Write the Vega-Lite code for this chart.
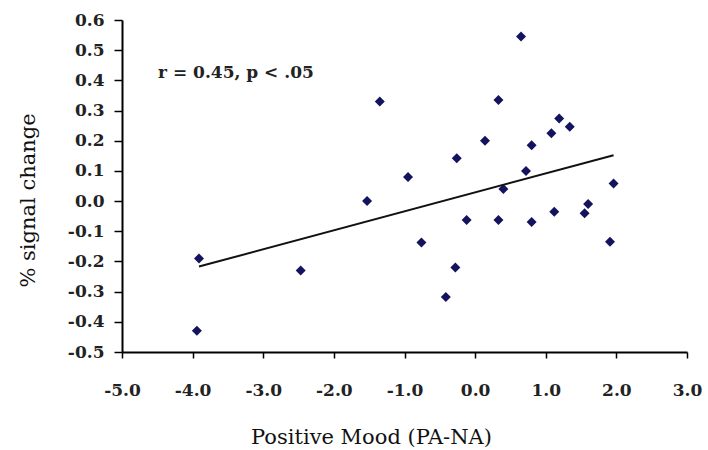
{
  "$schema": "https://vega.github.io/schema/vega-lite/v6.json",
  "width": 565,
  "height": 332,
  "autosize": {"type": "none"},
  "padding": {"left": 122, "top": 20, "right": 21, "bottom": 98},
  "background": "white",
  "config": {
    "view": {"stroke": null},
    "axis": {
      "domainColor": "black",
      "domainWidth": 2,
      "tickColor": "black",
      "tickWidth": 1.5,
      "grid": false,
      "labelFont": "DejaVu Serif",
      "labelFontWeight": "bold",
      "labelFontSize": 17,
      "labelColor": "#222222",
      "labelOverlap": false,
      "labelFlush": false,
      "titleFont": "DejaVu Serif",
      "titleFontWeight": "normal",
      "titleFontSize": 21,
      "titleColor": "#111111"
    }
  },
  "layer": [
    {
      "data": {
        "values": [
          {"mood": -3.91, "signal": -0.19},
          {"mood": -3.94, "signal": -0.43},
          {"mood": -2.47, "signal": -0.23},
          {"mood": -1.35, "signal": 0.33},
          {"mood": -0.95, "signal": 0.08},
          {"mood": -1.53, "signal": 0.0},
          {"mood": -0.76, "signal": -0.137},
          {"mood": -0.26, "signal": 0.142},
          {"mood": -0.12, "signal": -0.063},
          {"mood": -0.28, "signal": -0.22},
          {"mood": -0.415, "signal": -0.318},
          {"mood": 0.14, "signal": 0.2},
          {"mood": 0.33, "signal": 0.335},
          {"mood": 0.33, "signal": -0.063},
          {"mood": 0.4, "signal": 0.04},
          {"mood": 0.65, "signal": 0.545},
          {"mood": 0.72, "signal": 0.1},
          {"mood": 0.8, "signal": 0.185},
          {"mood": 0.8, "signal": -0.069},
          {"mood": 1.08, "signal": 0.225},
          {"mood": 1.12, "signal": -0.035},
          {"mood": 1.19, "signal": 0.274},
          {"mood": 1.34, "signal": 0.246},
          {"mood": 1.55, "signal": -0.04},
          {"mood": 1.6, "signal": -0.01},
          {"mood": 1.91, "signal": -0.135},
          {"mood": 1.96, "signal": 0.058}
        ]
      },
      "mark": {"type": "point", "shape": "diamond", "filled": true, "size": 100, "color": "#14145e", "opacity": 1},
      "encoding": {
        "x": {
          "field": "mood", "type": "quantitative",
          "scale": {"domain": [-5, 3], "nice": false, "zero": false},
          "axis": {
            "values": [-5, -4, -3, -2, -1, 0, 1, 2, 3],
            "tickCount": 20,
            "labelExpr": "replace(format(datum.value, '.1f'), '\u2212', '-')",
            "tickSize": 6,
            "labelPadding": 24,
            "title": "Positive Mood (PA-NA)",
            "titleX": 249,
            "titleY": 85,
            "titleAnchor": null,
            "titleAlign": "center",
            "titleBaseline": "middle"
          }
        },
        "y": {
          "field": "signal", "type": "quantitative",
          "scale": {"domain": [-0.5, 0.6], "nice": false, "zero": false},
          "axis": {
            "values": [-0.5, -0.4, -0.3, -0.2, -0.1, 0, 0.1, 0.2, 0.3, 0.4, 0.5, 0.6],
            "tickCount": 30,
            "labelExpr": "replace(format(datum.value, '.1f'), '\u2212', '-')",
            "tickSize": 8,
            "labelPadding": 10,
            "title": "% signal change",
            "titleX": -94,
            "titleY": 180,
            "titleAngle": -90,
            "titleAlign": "center",
            "titleBaseline": "middle"
          }
        }
      }
    },
    {
      "data": {"values": [{"mood": -3.91, "signal": -0.217}, {"mood": 1.96, "signal": 0.152}]},
      "mark": {"type": "line", "color": "#111111", "strokeWidth": 2},
      "encoding": {
        "x": {"field": "mood", "type": "quantitative"},
        "y": {"field": "signal", "type": "quantitative"}
      }
    },
    {
      "data": {"values": [{"mood": -4.49, "signal": 0.425, "label": "r = 0.45, p < .05"}]},
      "mark": {"type": "text", "align": "left", "baseline": "middle", "font": "DejaVu Serif", "fontSize": 17, "fontWeight": "bold", "color": "#222222"},
      "encoding": {
        "x": {"field": "mood", "type": "quantitative"},
        "y": {"field": "signal", "type": "quantitative"},
        "text": {"field": "label"}
      }
    }
  ]
}
